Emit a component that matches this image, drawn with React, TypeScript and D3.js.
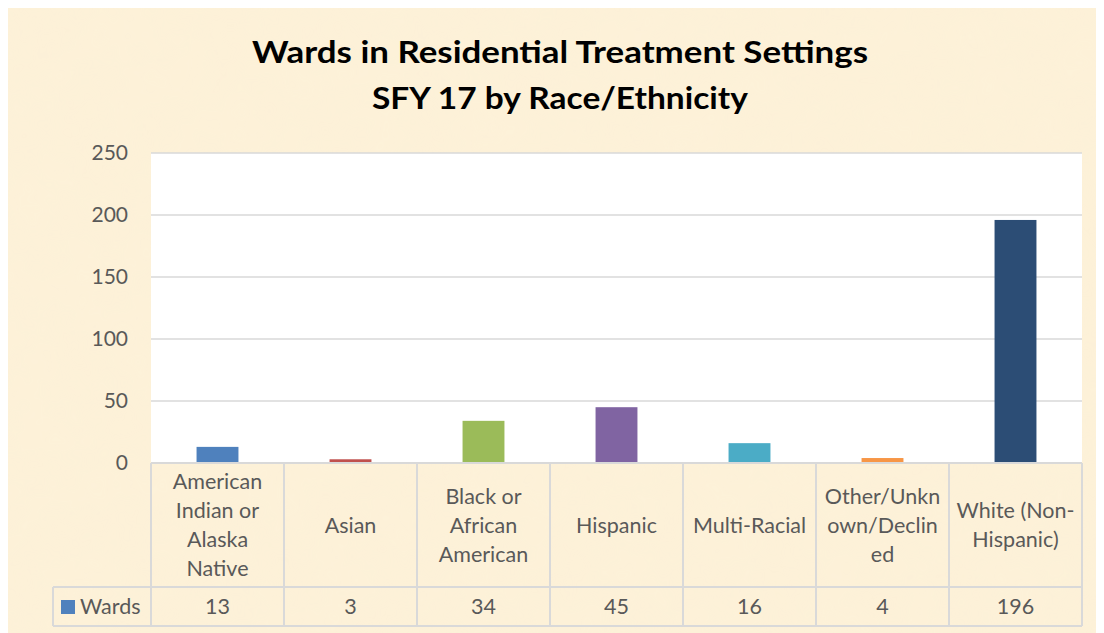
import React from "react";
import * as d3 from "d3";

const categories = [
  "American Indian or Alaska Native",
  "Asian",
  "Black or African American",
  "Hispanic",
  "Multi-Racial",
  "Other/Unknown/Declined",
  "White (Non-Hispanic)",
];
const categoryLines = [
  ["American", "Indian or", "Alaska", "Native"],
  ["Asian"],
  ["Black or", "African", "American"],
  ["Hispanic"],
  ["Multi-Racial"],
  ["Other/Unkn", "own/Declin", "ed"],
  ["White (Non-", "Hispanic)"],
];
const wards = [13, 3, 34, 45, 16, 4, 196];
const barColors = ["#4f81bd", "#c0504d", "#9bbb59", "#8064a2", "#4bacc6", "#f79646", "#2c4d75"];
const yTicks = [0, 50, 100, 150, 200, 250];
const seriesName = "Wards";
const titleLines = ["Wards in Residential Treatment Settings", "SFY 17 by Race/Ethnicity"];
const titleWidths = [616, 376];

const W = 1096;
const H = 625;
const OX = -8; // svg is placed at body margin (8,8)
const plotL = 151 + OX, plotR = 1082 + OX, plotT = 153 + OX, plotB = 463 + OX;
const headB = 587 + OX, rowB = 626 + OX, tableL = 53 + OX;
const FONT = "Lato, 'Open Sans', sans-serif";
const GRID = "#d9d9d9";
const TXT = "#595959";

export default function App() {
  const x = d3.scaleBand<number>().domain(d3.range(categories.length)).range([plotL, plotR]).paddingInner(0.685).paddingOuter(0.3425);
  const step = (plotR - plotL) / categories.length;
  const y = d3.scaleLinear().domain([0, 250]).range([plotB, plotT]);
  const lh = 29;
  const headMid = (plotB + headB) / 2;
  const rowMid = (headB + rowB) / 2;
  return (
    <svg width={W} height={H} style={{ display: "block" }}>
      <defs>
        <filter id="parch" x="0" y="0" width="100%" height="100%">
          <feTurbulence type="fractalNoise" baseFrequency="0.02" numOctaves="3" seed="4" result="n" />
          <feColorMatrix in="n" type="matrix" values="0 0 0 0 0.96  0 0 0 0 0.88  0 0 0 0 0.70  0 0 0 0.35 0" />
        </filter>
      </defs>
      <rect x={0} y={0} width={W} height={H} fill="#fdf1d8" />
      <rect x={0} y={0} width={W} height={H} filter="url(#parch)" opacity={0.5} />
      {titleLines.map((t, i) => (
        <text key={i} x={560 + OX} y={63 + OX + i * 46} textAnchor="middle" fontFamily={FONT} fontWeight="bold" fontSize={30}
          textLength={titleWidths[i]} lengthAdjust="spacingAndGlyphs" fill="#000">
          {t}
        </text>
      ))}
      <rect x={plotL} y={plotT} width={plotR - plotL} height={plotB - plotT} fill="#fff" />
      {yTicks.map((t) => (
        <g key={t}>
          <line x1={plotL} x2={plotR} y1={y(t)} y2={y(t)} stroke={GRID} strokeWidth={1.5} />
          <text x={128 + OX} y={y(t)} dy="0.35em" textAnchor="end" fontFamily={FONT} fontSize={21} fill={TXT}>
            {t}
          </text>
        </g>
      ))}
      {wards.map((v, i) => (
        <rect key={i} x={x(i)} y={y(v)} width={x.bandwidth()} height={y(0) - y(v)} fill={barColors[i]} />
      ))}
      <g stroke={GRID} strokeWidth={2} fill="none">
        <line x1={plotL} x2={plotR} y1={plotB} y2={plotB} />
        <line x1={tableL} x2={plotR} y1={headB} y2={headB} />
        <line x1={tableL} x2={plotR} y1={rowB} y2={rowB} />
        <line x1={tableL} x2={tableL} y1={headB} y2={rowB} />
        {d3.range(categories.length + 1).map((i) => (
          <line key={i} x1={plotL + i * step} x2={plotL + i * step} y1={plotB} y2={rowB} />
        ))}
      </g>
      {categoryLines.map((lines, i) => (
        <text key={i} x={plotL + (i + 0.5) * step} textAnchor="middle" fontFamily={FONT} fontSize={21.5} fill={TXT}>
          {lines.map((ln, j) => (
            <tspan key={j} x={plotL + (i + 0.5) * step} y={headMid + (j - (lines.length - 1) / 2) * lh} dy="0.35em">
              {ln}
            </tspan>
          ))}
        </text>
      ))}
      {wards.map((v, i) => (
        <text key={i} x={plotL + (i + 0.5) * step} y={rowMid} dy="0.35em" textAnchor="middle" fontFamily={FONT} fontSize={21.5} fill={TXT}>
          {v}
        </text>
      ))}
      <rect x={61 + OX} y={600 + OX} width={14} height={14} fill={barColors[0]} />
      <text x={80 + OX} y={rowMid} dy="0.35em" fontFamily={FONT} fontSize={21.5} fill={TXT}>
        {seriesName}
      </text>
    </svg>
  );
}
